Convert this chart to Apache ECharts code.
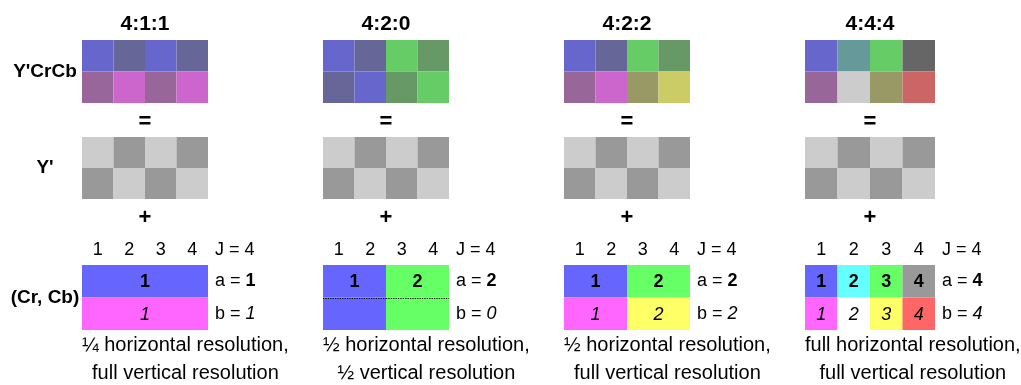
<!DOCTYPE html>
<html>
<head>
<meta charset="utf-8">
<script src="https://cdn.jsdelivr.net/npm/echarts@6/dist/echarts.min.js"></script>
<style>
	html, body { margin: 0; padding: 0; background: #fff; }
	#chart { width: 1021px; height: 385px; }
</style>
</head>
<body>
<div id="chart"></div>
<script>
// ---- data ----
const schemes = ['4:1:1', '4:2:0', '4:2:2', '4:4:4']
const columns = ['1', '2', '3', '4']
const chromaRows = ['a', 'b']
const J = 4
const aValues = [1, 2, 2, 4]
const bValues = [1, 0, 2, 4]

// Y'CrCb pixels, row-major, 2 rows x 4 columns
const combined411 = ['#6666cc', '#666699', '#6666cc', '#666699', '#996699', '#cc66cc', '#996699', '#cc66cc']
const combined420 = ['#6666cc', '#666699', '#66cc66', '#669966', '#666699', '#6666cc', '#669966', '#66cc66']
const combined422 = ['#6666cc', '#666699', '#66cc66', '#669966', '#996699', '#cc66cc', '#999966', '#cccc66']
const combined444 = ['#6666cc', '#669999', '#66cc66', '#666666', '#996699', '#cccccc', '#999966', '#cc6666']
const combined = [combined411, combined420, combined422, combined444]

// Y' (luma) pixels, same for every scheme
const luma = ['#cccccc', '#999999', '#cccccc', '#999999', '#999999', '#cccccc', '#999999', '#cccccc']

// chroma samples per row (a = first row, b = second row)
const chromaA = [
	['#6666ff'],
	['#6666ff', '#66ff66'],
	['#6666ff', '#66ff66'],
	['#6666ff', '#66ffff', '#66ff66', '#999999']
]
const chromaB = [
	['#ff66ff'],
	[],
	['#ff66ff', '#ffff66'],
	['#ff66ff', '#ffffff', '#ffff66', '#ff6666']
]

const rowLabels = ["Y'CrCb", "Y'", '(Cr, Cb)']
const captions = [
	['¼ horizontal resolution,', 'full vertical resolution'],
	['½ horizontal resolution,', '½ vertical resolution'],
	['½ horizontal resolution,', 'full vertical resolution'],
	['full horizontal resolution,', 'full vertical resolution']
]

// ---- layout ----
const FONT = 'Liberation Sans, Arial, Helvetica, sans-serif'
const panelLeft = [82, 323, 564, 805]
const panelWidth = [126, 126, 126, 130]
const blocks = [
	{ top: 40, height: 63 },   // Y'CrCb
	{ top: 137, height: 62 },  // Y'
	{ top: 265, height: 65 }   // (Cr, Cb)
]
const rowLabelX = 45
const titleY = 24
const equalsY = 122
const plusY = 218
const captionY = [345, 373]

const measure = document.createElement('canvas').getContext('2d')
function textWidth (text, font) {
	measure.font = font
	return measure.measureText(text).width
}

function txt (x, y, text, font, align) {
	return {
		type: 'text', x: x, y: y, silent: true,
		style: {
			text: text, font: font, fill: '#000',
			align: align || 'center', textAlign: align || 'center',
			verticalAlign: 'middle', textVerticalAlign: 'middle'
		}
	}
}

// chroma blocks for one scheme: each sample spans J / count columns
function chromaBlocks (p) {
	const out = []
	const a = chromaA[p]
	const b = chromaB[p]
	a.forEach((c, i) => out.push({ row: 0, start: i * J / a.length, span: J / a.length, color: c, label: String(i + 1), style: 'bold' }))
	if (b.length) {
		b.forEach((c, i) => out.push({ row: 1, start: i * J / b.length, span: J / b.length, color: c, label: String(i + 1), style: 'italic' }))
	} else {
		// b = 0: second row shares the first row's samples
		a.forEach((c, i) => out.push({ row: 1, start: i * J / a.length, span: J / a.length, color: c, label: '', shared: true }))
	}
	return out
}

function pixelSeries (gi, colors) {
	return {
		type: 'custom',
		xAxisIndex: gi,
		yAxisIndex: gi,
		silent: true,
		data: colors.map((c, i) => [i % 4, Math.floor(i / 4)]),
		renderItem (params, api) {
			const c = api.coord([api.value(0), api.value(1)])
			const s = api.size([1, 1])
			return {
				type: 'rect',
				shape: { x: c[0] - s[0] / 2, y: c[1] - s[1] / 2, width: s[0], height: s[1] },
				style: { fill: colors[params.dataIndex] }
			}
		}
	}
}

function chromaSeries (gi, p) {
	const items = chromaBlocks(p)
	return {
		type: 'custom',
		xAxisIndex: gi,
		yAxisIndex: gi,
		silent: true,
		data: items.map(d => [d.start, d.row, d.span]),
		renderItem (params, api) {
			const d = items[params.dataIndex]
			const c = api.coord([api.value(0), api.value(1)])
			const s = api.size([1, 1])
			const x0 = c[0] - s[0] / 2
			const y0 = c[1] - s[1] / 2
			const w = s[0] * api.value(2)
			const children = [{
				type: 'rect',
				shape: { x: x0, y: y0, width: w, height: s[1] },
				style: { fill: d.color }
			}]
			if (d.label) {
				children.push({
					type: 'text',
					style: {
						text: d.label, x: x0 + w / 2, y: y0 + s[1] / 2 + 1,
						font: d.style + ' 18px ' + FONT, fill: '#000',
						align: 'center', verticalAlign: 'middle'
					}
				})
			}
			if (d.shared) {
				const ly = Math.round(y0) + 0.5
				children.push({
					type: 'line',
					shape: { x1: x0, y1: ly, x2: x0 + w, y2: ly },
					style: { stroke: '#000', lineWidth: 1, lineDash: [1.2, 1.2] }
				})
			}
			return { type: 'group', children: children }
		}
	}
}

const grid = []
const xAxis = []
const yAxis = []
const series = []
const graphics = []

schemes.forEach((scheme, p) => {
	blocks.forEach((blk, k) => {
		const gi = p * 3 + k
		const isChroma = k === 2
		grid.push({ left: panelLeft[p], top: blk.top, width: panelWidth[p], height: blk.height })
		xAxis.push({
			gridIndex: gi,
			type: 'category',
			data: columns,
			position: isChroma ? 'top' : 'bottom',
			axisLine: { show: false },
			axisTick: { show: false },
			splitLine: { show: false },
			axisLabel: { show: isChroma, margin: 6, fontSize: 18, color: '#000', fontFamily: FONT }
		})
		yAxis.push({
			gridIndex: gi,
			type: 'category',
			data: chromaRows,
			inverse: true,
			position: 'right',
			axisLine: { show: false },
			axisTick: { show: false },
			splitLine: { show: false },
			name: isChroma ? 'J = ' + J : '',
			nameLocation: 'start',
			nameGap: 15,
			nameTextStyle: { fontSize: 18, color: '#000', fontFamily: FONT, align: 'left', verticalAlign: 'middle', padding: [0, 0, 0, 7] },
			axisLabel: {
				show: isChroma,
				margin: 7,
				fontSize: 18,
				color: '#000',
				fontFamily: FONT,
				formatter: v => v === 'a' ? 'a = {bold|' + aValues[p] + '}' : 'b = {ital|' + bValues[p] + '}',
				rich: {
					bold: { fontWeight: 'bold', fontSize: 18, fontFamily: FONT, color: '#000' },
					ital: { fontStyle: 'italic', fontSize: 18, fontFamily: FONT, color: '#000' }
				}
			}
		})
		if (k === 0) series.push(pixelSeries(gi, combined[p]))
		if (k === 1) series.push(pixelSeries(gi, luma))
		if (k === 2) series.push(chromaSeries(gi, p))
	})

	const cx = panelLeft[p] + panelWidth[p] / 2
	graphics.push(txt(cx, titleY, scheme, 'bold 21px ' + FONT))
	graphics.push(txt(cx, equalsY, '=', 'bold 22px ' + FONT))
	graphics.push(txt(cx, plusY, '+', 'bold 22px ' + FONT))

	// caption: first line starts at the panel's left edge, second line centred under it
	const capFont = '20px ' + FONT
	const capX = panelLeft[p] + textWidth(captions[p][0], capFont) / 2
	graphics.push(txt(capX, captionY[0], captions[p][0], capFont))
	graphics.push(txt(capX, captionY[1], captions[p][1], capFont))
})

blocks.forEach((blk, k) => {
	graphics.push(txt(rowLabelX, blk.top + blk.height / 2, rowLabels[k], 'bold 19px ' + FONT))
})

const chart = echarts.init(document.getElementById('chart'), null, { renderer: 'canvas' })
chart.setOption({
	animation: false,
	backgroundColor: '#fff',
	grid: grid,
	xAxis: xAxis,
	yAxis: yAxis,
	series: series,
	graphic: { elements: graphics }
})
</script>
</body>
</html>
